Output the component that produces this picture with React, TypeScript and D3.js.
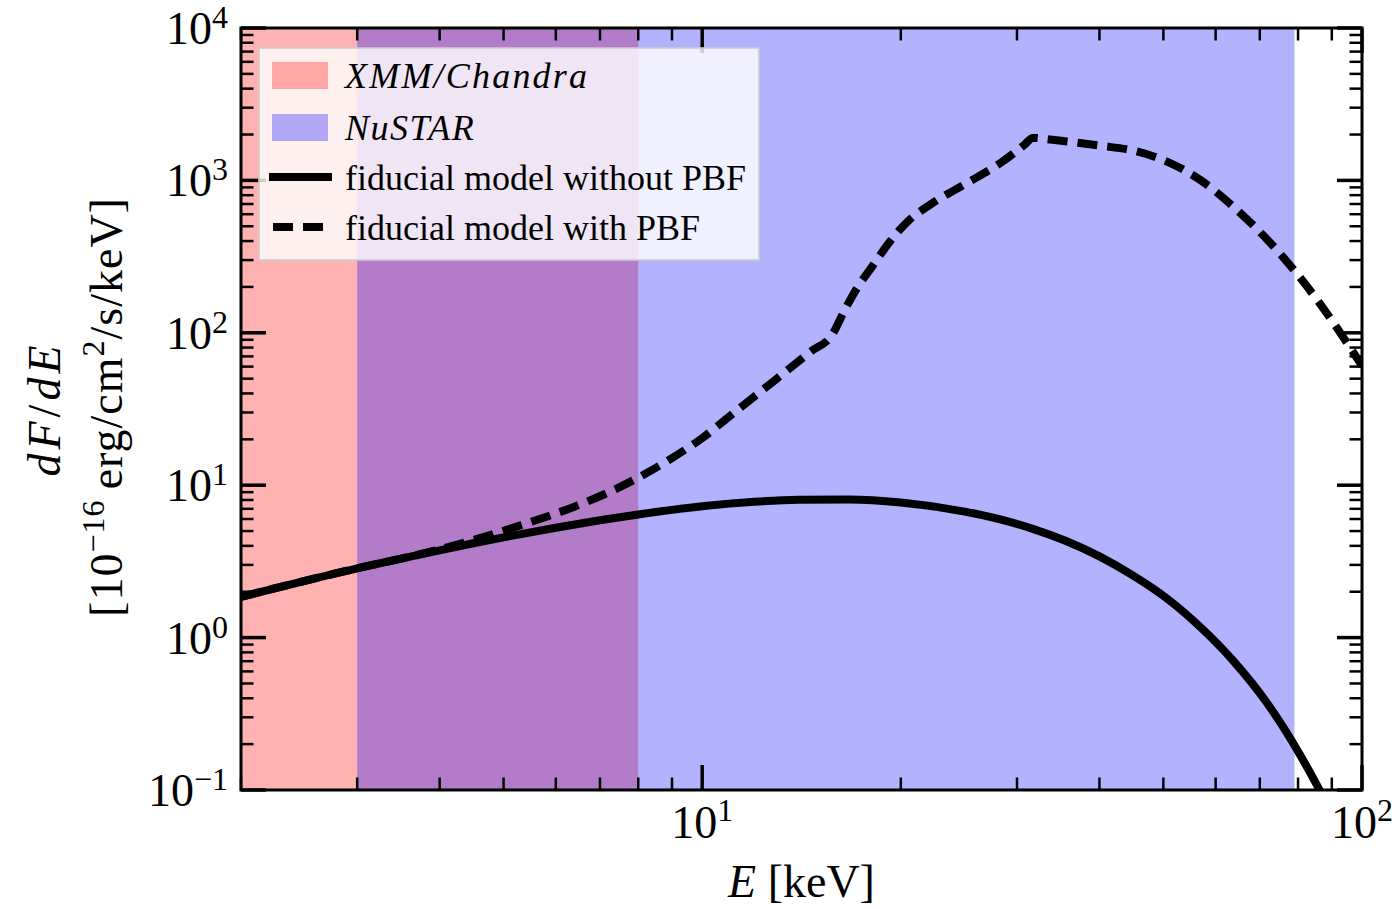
import React from "react";
import * as d3 from "d3";

// ---- data ----
const xmmRange = [0.3, 8];
const nustarRange = [3, 79];

const solidE = [2, 2.5, 3, 3.5, 4, 4.5, 5, 6, 7, 8, 10, 12, 14, 16.7, 20, 25, 28.2, 31.7, 35.6, 40, 45, 50.6, 56.8, 63.7, 71.7, 80.5, 85.4, 90];
const solidF = [1.85, 2.36, 2.85, 3.3, 3.74, 4.16, 4.55, 5.26, 5.89, 6.43, 7.28, 7.78, 8.02, 8.06, 7.71, 6.71, 5.99, 5.17, 4.3, 3.41, 2.55, 1.81, 1.18, 0.71, 0.375, 0.171, 0.108, 0.069];

const dashedE = [2, 2.5, 3, 3.5, 4, 4.5, 5.3, 6.4, 7.2, 8, 9, 10, 11, 12.4, 13.6, 14.6, 15.75, 16.43, 17.14, 18.14, 19.22, 20.5, 22.16, 24.04, 26.08, 28.56, 30.81, 31.7, 33.7, 37.33, 40, 45, 50, 57, 64, 72, 80, 86, 93, 100];
const dashedF = [1.85, 2.36, 2.85, 3.3, 3.8, 4.37, 5.45, 7.23, 8.94, 11.22, 15.07, 20.36, 28.3, 42.8, 58.8, 75.2, 97.6, 140, 194, 276, 393, 539, 694, 857, 1047, 1334, 1718, 1901, 1853, 1762, 1692, 1570, 1360, 1000, 665, 405, 239, 159, 98, 60.7];

const xDomain = [2, 100];
const yDomain = [0.1, 10000];

const legendLabels = ["XMM/Chandra", "NuSTAR", "fiducial model without PBF", "fiducial model with PBF"];

// ---- layout ----
const W = 1396;
const H = 909;
const M = { left: 241, right: 1362, top: 28, bottom: 790 };
const FONT = "'Liberation Serif', 'Times New Roman', serif";

export default function App() {
  const x = d3.scaleLog().domain(xDomain).range([M.left, M.right]);
  const y = d3.scaleLog().domain(yDomain).range([M.bottom, M.top]);

  const solid = solidE.map((e, i) => [e, solidF[i]] as [number, number]);
  const dashed = dashedE.map((e, i) => [e, dashedF[i]] as [number, number]);

  const line = d3
    .line<[number, number]>()
    .x((d) => x(d[0]))
    .y((d) => y(d[1]))
    .curve(d3.curveMonotoneX);

  const isMajor = (v: number) => Math.abs(Math.log10(v) - Math.round(Math.log10(v))) < 1e-9;
  const xTicks = x.ticks();
  const yTicks = y.ticks();

  const majLen = 25;
  const minLen = 12.5;
  const majW = 3.5;
  const minW = 2.5;

  const expStr = (v: number) => {
    const e = Math.round(Math.log10(v));
    return e < 0 ? "\u2212" + Math.abs(e) : String(e);
  };

  const clipX0 = x(xDomain[0]);
  const clipX1 = x(xDomain[1]);

  return (
    <svg
      width={W}
      height={H}
      style={{ position: "absolute", left: 0, top: 0, background: "#fff" }}
      fontFamily={FONT}
    >
      <defs>
        <clipPath id="plotclip">
          <rect x={clipX0} y={M.top} width={clipX1 - clipX0} height={M.bottom - M.top} />
        </clipPath>
      </defs>
      <g clipPath="url(#plotclip)">
        <rect
          x={x(xmmRange[0])}
          y={M.top}
          width={x(xmmRange[1]) - x(xmmRange[0])}
          height={M.bottom - M.top}
          fill="rgb(255,0,0)"
          fillOpacity={0.3}
        />
        <rect
          x={x(nustarRange[0])}
          y={M.top}
          width={x(nustarRange[1]) - x(nustarRange[0])}
          height={M.bottom - M.top}
          fill="rgb(0,0,255)"
          fillOpacity={0.3}
        />
        <path d={line(solid) || ""} fill="none" stroke="#000" strokeWidth={8} />
        <path d={line(dashed) || ""} fill="none" stroke="#000" strokeWidth={8} strokeDasharray="20 10" />
      </g>

      {/* ticks */}
      <g stroke="#000">
        {xTicks.map((t, i) => {
          const maj = isMajor(t);
          const L = maj ? majLen : minLen;
          const px = x(t);
          return (
            <g key={"xt" + i}>
              <line x1={px} x2={px} y1={M.bottom} y2={M.bottom - L} strokeWidth={maj ? majW : minW} />
              <line x1={px} x2={px} y1={M.top} y2={M.top + L} strokeWidth={maj ? majW : minW} />
            </g>
          );
        })}
        {yTicks.map((t, i) => {
          const maj = isMajor(t);
          const L = maj ? majLen : minLen;
          const py = y(t);
          return (
            <g key={"yt" + i}>
              <line x1={M.left} x2={M.left + L} y1={py} y2={py} strokeWidth={maj ? majW : minW} />
              <line x1={M.right} x2={M.right - L} y1={py} y2={py} strokeWidth={maj ? majW : minW} />
            </g>
          );
        })}
      </g>
      <rect
        x={M.left}
        y={M.top}
        width={M.right - M.left}
        height={M.bottom - M.top}
        fill="none"
        stroke="#000"
        strokeWidth={3}
      />

      {/* tick labels */}
      {yTicks.filter(isMajor).map((t, i) => (
        <text key={"yl" + i} x={M.left - 13} y={y(t) + 16} textAnchor="end" fontSize={46} fill="#000">
          10
          <tspan fontSize={32} dy={-16}>
            {expStr(t)}
          </tspan>
        </text>
      ))}
      {xTicks.filter(isMajor).map((t, i) => (
        <text key={"xl" + i} x={x(t)} y={M.bottom + 48} textAnchor="middle" fontSize={46} fill="#000">
          10
          <tspan fontSize={32} dy={-17}>
            {expStr(t)}
          </tspan>
        </text>
      ))}

      {/* axis titles */}
      <text x={(M.left + M.right) / 2} y={897} textAnchor="middle" fontSize={46} fill="#000">
        <tspan fontStyle="italic">E</tspan>
        <tspan> [keV]</tspan>
      </text>
      <g transform={`translate(60, 409) rotate(-90)`}>
        <text x={0} y={0} textAnchor="middle" fontSize={46} fill="#000" letterSpacing={4}>
          <tspan fontStyle="italic">dF</tspan>
          <tspan>/</tspan>
          <tspan fontStyle="italic">dE</tspan>
        </text>
      </g>
      <g transform={`translate(122, 407) rotate(-90)`}>
        <text x={0} y={0} textAnchor="middle" fontSize={46} fill="#000" letterSpacing={1}>
          <tspan>[10</tspan>
          <tspan fontSize={32} dy={-18}>{"\u221216"}</tspan>
          <tspan dy={18}>{"\u2009erg/cm"}</tspan>
          <tspan fontSize={32} dy={-18}>2</tspan>
          <tspan dy={18}>/s/keV]</tspan>
        </text>
      </g>

      {/* legend */}
      <g>
        <rect x={259} y={48} width={500} height={212} fill="#fff" fillOpacity={0.8} stroke="#ccc" strokeOpacity={0.8} strokeWidth={2} />
        <rect x={272} y={62} width={56} height={27} fill="rgb(255,0,0)" fillOpacity={0.3} />
        <rect x={272} y={114} width={56} height={27} fill="rgb(0,0,255)" fillOpacity={0.3} />
        <line x1={273} x2={328} y1={177} y2={177} stroke="#000" strokeWidth={8} strokeLinecap="square" />
        <line x1={273} x2={328} y1={227} y2={227} stroke="#000" strokeWidth={8} strokeDasharray="20 10" />
        <text x={345} y={88} fontSize={36} fontStyle="italic" fill="#000" letterSpacing={2.2}>
          {legendLabels[0]}
        </text>
        <text x={345} y={140} fontSize={36} fontStyle="italic" fill="#000" letterSpacing={1.5}>
          {legendLabels[1]}
        </text>
        <text x={345} y={190} fontSize={36} fill="#000">
          {legendLabels[2]}
        </text>
        <text x={345} y={240} fontSize={36} fill="#000">
          {legendLabels[3]}
        </text>
      </g>
    </svg>
  );
}
